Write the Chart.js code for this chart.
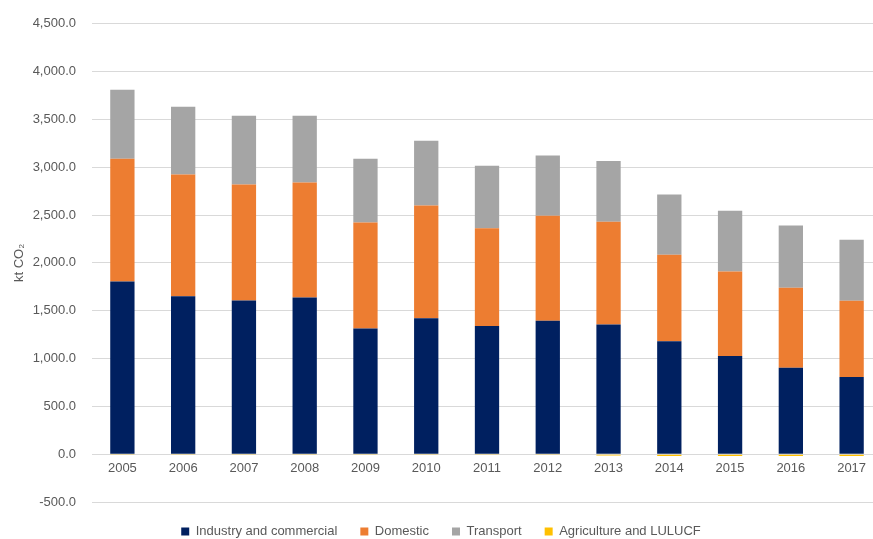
<!DOCTYPE html>
<html>
<head>
<meta charset="utf-8">
<script src="https://cdn.jsdelivr.net/npm/chart.js@4"></script>
<style>
  html, body { margin: 0; padding: 0; background: #fff; overflow: hidden; }
  #wrap { width: 884px; height: 548px; position: relative; }
</style>
</head>
<body>
<div id="wrap"><canvas id="c"></canvas></div>
<script>
const years = ['2005','2006','2007','2008','2009','2010','2011','2012','2013','2014','2015','2016','2017'];
const industry = [1806, 1650, 1608, 1639, 1315, 1420, 1339, 1396, 1357, 1180, 1026, 905, 807];
const domestic = [1284, 1273, 1211, 1201, 1107, 1180, 1024, 1096, 1072, 905, 885, 835, 798];
const transport = [721, 710, 720, 699, 668, 678, 654, 630, 637, 629, 633, 651, 637];
const agriculture = [-8, -8, -8, -8, -8, -8, -8, -8, -15, -18, -18, -20, -20];
const seriesNames = ['Industry and commercial', 'Domestic', 'Transport', 'Agriculture and LULUCF'];
const yTitle = 'kt CO\u2082';

const font = { family: "'Liberation Sans', Arial, sans-serif", size: 13 };
const textColor = '#595959';

new Chart(document.getElementById('c'), {
  type: 'bar',
  data: {
    labels: years,
    datasets: [
      { label: seriesNames[0], data: industry, backgroundColor: '#002060' },
      { label: seriesNames[1], data: domestic, backgroundColor: '#ED7D31' },
      { label: seriesNames[2], data: transport, backgroundColor: '#A5A5A5' },
      { label: seriesNames[3], data: agriculture, backgroundColor: '#FFC000' }
    ]
  },
  options: {
    responsive: true,
    maintainAspectRatio: false,
    animation: false,
    datasets: { bar: { categoryPercentage: 1.0, barPercentage: 0.4, borderWidth: 0 } },
    layout: { padding: { top: 16, right: 2, left: 0, bottom: 0 } },
    plugins: {
      tooltip: { enabled: false },
      legend: {
        position: 'bottom',
        labels: {
          font: font, color: textColor,
          boxWidth: 8, boxHeight: 8, padding: 23
        }
      }
    },
    scales: {
      x: {
        stacked: true,
        position: { y: 0 },
        grid: { display: false, drawTicks: false },
        border: { display: true, color: '#d9d9d9' },
        ticks: { font: font, color: textColor, padding: 6 }
      },
      y: {
        stacked: true,
        min: -500, max: 4500,
        grid: { color: '#d9d9d9', drawTicks: false },
        border: { display: false },
        afterFit: (scale) => { scale.width = 92; },
        ticks: {
          stepSize: 500,
          font: font, color: textColor, padding: 16,
          callback: (v) => Number(v).toLocaleString('en-US', { minimumFractionDigits: 1, maximumFractionDigits: 1 })
        },
        title: { display: true, text: yTitle, font: font, color: textColor, padding: { top: 12, bottom: 4 } }
      }
    }
  }
});
</script>
</body>
</html>
